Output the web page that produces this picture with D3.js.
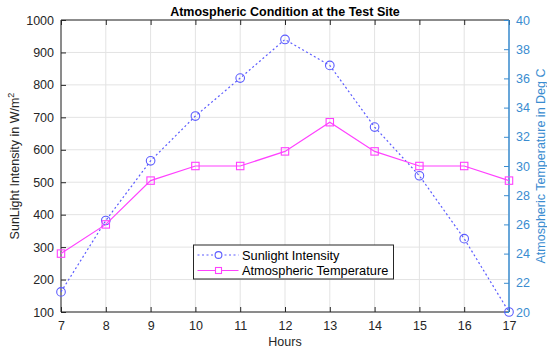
<!DOCTYPE html>
<html>
<head>
<meta charset="utf-8">
<script src="https://cdn.jsdelivr.net/npm/d3@7"></script>
<style>
  html, body { margin: 0; padding: 0; background: #fff; }
  svg { display: block; font-family: "Liberation Sans", Arial, Helvetica, sans-serif; }
</style>
</head>
<body>
<svg id="chart" width="547" height="351"></svg>
<script>
// Hourly readings at the test site
const hours = [7, 8, 9, 10, 11, 12, 13, 14, 15, 16, 17];
const sunlight = [162, 382, 566, 704, 821, 940, 860, 670, 520, 326, 100];
const temperature = [24, 26, 29, 30, 30, 31, 33, 31, 30, 30, 29];
const leftTicks = [100, 200, 300, 400, 500, 600, 700, 800, 900, 1000];
const rightTicks = [20, 22, 24, 26, 28, 30, 32, 34, 36, 38, 40];
const seriesNames = ["Sunlight Intensity", "Atmospheric Temperature"];

const svg = d3.select("#chart");
const m = { left: 61, right: 509, top: 20, bottom: 312 };

const x = d3.scaleLinear().domain([7, 17]).range([m.left, m.right]);
const yL = d3.scaleLinear().domain([100, 1000]).range([m.bottom, m.top]);
const yR = d3.scaleLinear().domain([20, 40]).range([m.bottom, m.top]);

const axisColor = "#262626";
const rightColor = "#3a8cd0";
const sunColor = "#5c5cff";
const tempColor = "#ff40ff";
const gridColor = "#e3e3e3";
const fontFamily = "Liberation Sans, Arial, sans-serif";

// grid lines
const grid = svg.append("g");
grid.selectAll("line.gx").data(hours).join("line")
  .attr("x1", d => x(d)).attr("x2", d => x(d))
  .attr("y1", m.top).attr("y2", m.bottom)
  .attr("stroke", gridColor).attr("stroke-width", 1);
grid.selectAll("line.gy").data(leftTicks).join("line")
  .attr("x1", m.left).attr("x2", m.right)
  .attr("y1", d => yL(d)).attr("y2", d => yL(d))
  .attr("stroke", gridColor).attr("stroke-width", 1);

// bottom axis
const xAxis = d3.axisBottom(x).tickValues(hours).tickSize(-5).tickPadding(9).tickFormat(d3.format("d"));
const gx = svg.append("g").attr("transform", `translate(0,${m.bottom})`).call(xAxis);
// top axis (box edge)
const gxt = svg.append("g").attr("transform", `translate(0,${m.top})`)
  .call(d3.axisTop(x).tickValues(hours).tickSize(-5).tickFormat(""));
// left axis
const gl = svg.append("g").attr("transform", `translate(${m.left},0)`)
  .call(d3.axisLeft(yL).tickValues(leftTicks).tickSize(-5).tickPadding(7).tickFormat(d3.format("d")));
// right axis
const gr = svg.append("g").attr("transform", `translate(${m.right},0)`)
  .call(d3.axisRight(yR).tickValues(rightTicks).tickSize(-5).tickPadding(7).tickFormat(d3.format("d")));

[gx, gxt, gl].forEach(g => {
  g.selectAll("path").attr("stroke", axisColor).attr("stroke-width", 1);
  g.selectAll("line").attr("stroke", axisColor);
  g.selectAll("text").attr("fill", axisColor).attr("font-size", 12.5)
    .attr("font-family", fontFamily);
});
gr.selectAll("path").attr("stroke", rightColor).attr("stroke-width", 1.5);
gr.selectAll("line").attr("stroke", rightColor);
gr.selectAll("text").attr("fill", rightColor).attr("font-size", 12.5)
  .attr("font-family", fontFamily);
svg.selectAll(".domain").attr("fill", "none");
// plain axis lines without end caps
gx.select(".domain").attr("d", `M${m.left},0H${m.right}`);
gxt.select(".domain").attr("d", `M${m.left},0H${m.right}`);
gl.select(".domain").attr("d", `M0,${m.top}V${m.bottom}`);
gr.select(".domain").attr("d", `M0,${m.top}V${m.bottom}`);

// sunlight series (left axis)
const sunLine = d3.line().x((d, i) => x(hours[i])).y(d => yL(d));
svg.append("path").datum(sunlight)
  .attr("d", sunLine).attr("fill", "none")
  .attr("stroke", sunColor).attr("stroke-width", 1.2)
  .attr("stroke-dasharray", "2,2.5");
svg.append("g").selectAll("circle").data(sunlight).join("circle")
  .attr("cx", (d, i) => x(hours[i])).attr("cy", d => yL(d)).attr("r", 4.3)
  .attr("fill", "none").attr("stroke", sunColor).attr("stroke-width", 1.1);

// temperature series (right axis)
const tempLine = d3.line().x((d, i) => x(hours[i])).y(d => yR(d));
svg.append("path").datum(temperature)
  .attr("d", tempLine).attr("fill", "none")
  .attr("stroke", tempColor).attr("stroke-width", 1.2);
svg.append("g").selectAll("rect").data(temperature).join("rect")
  .attr("x", (d, i) => x(hours[i]) - 3.7).attr("y", d => yR(d) - 3.7)
  .attr("width", 7.4).attr("height", 7.4)
  .attr("fill", "none").attr("stroke", tempColor).attr("stroke-width", 1.1);

// title
svg.append("text").attr("x", (m.left + m.right) / 2).attr("y", 16)
  .attr("text-anchor", "middle").attr("font-weight", "bold")
  .attr("font-size", 12.5).attr("fill", "#000")
  .text("Atmospheric Condition at the Test Site");

// axis labels
svg.append("text").attr("x", (m.left + m.right) / 2).attr("y", 346)
  .attr("text-anchor", "middle").attr("font-size", 12.5).attr("fill", axisColor)
  .text("Hours");

const yl = svg.append("text")
  .attr("transform", `translate(19,${(m.top + m.bottom) / 2}) rotate(-90)`)
  .attr("text-anchor", "middle").attr("font-size", 12.5).attr("fill", axisColor);
yl.append("tspan").text("SunLight Intensity in W/m");
yl.append("tspan").attr("dy", -5).attr("font-size", 9).text("2");

svg.append("text")
  .attr("transform", `translate(545,${(m.top + m.bottom) / 2}) rotate(-90)`)
  .attr("text-anchor", "middle").attr("font-size", 12.5).attr("fill", rightColor)
  .text("Atmospheric Temperature in Deg C");

// legend
const lg = svg.append("g").attr("transform", "translate(193.5,245)");
lg.append("rect").attr("width", 200).attr("height", 34)
  .attr("fill", "#fff").attr("stroke", "#262626").attr("stroke-width", 1);
const rows = [
  { name: seriesNames[0], color: sunColor, dash: "2,2.5", mark: "circle" },
  { name: seriesNames[1], color: tempColor, dash: null, mark: "square" }
];
rows.forEach((r, i) => {
  const cy = 10 + i * 15.5;
  lg.append("line").attr("x1", 4).attr("x2", 45).attr("y1", cy).attr("y2", cy)
    .attr("stroke", r.color).attr("stroke-width", 1.2)
    .attr("stroke-dasharray", r.dash);
  if (r.mark === "circle") {
    lg.append("circle").attr("cx", 25).attr("cy", cy).attr("r", 3.4)
      .attr("fill", "#fff").attr("stroke", r.color).attr("stroke-width", 1.1);
  } else {
    lg.append("rect").attr("x", 22).attr("y", cy - 3).attr("width", 6).attr("height", 6)
      .attr("fill", "#fff").attr("stroke", r.color).attr("stroke-width", 1.1);
  }
  lg.append("text").attr("x", 48.5).attr("y", cy + 4.6).attr("font-size", 12.8)
    .attr("fill", "#000").text(r.name);
});
</script>
</body>
</html>
